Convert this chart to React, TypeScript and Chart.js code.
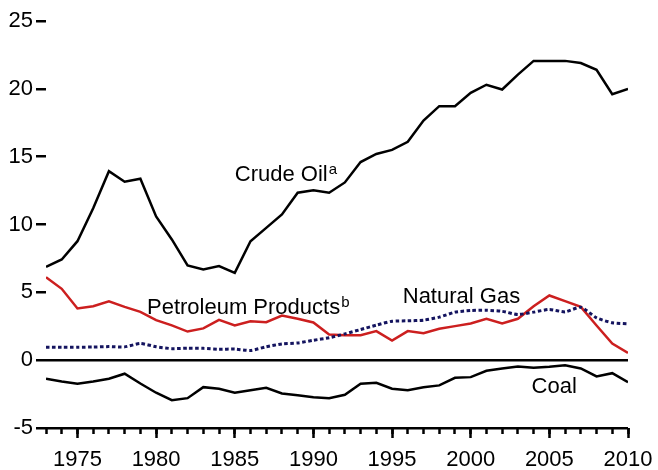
import React, { useEffect, useRef } from "react";
import { Chart, registerables } from "chart.js";

Chart.register(...registerables);

const FONT = '"Liberation Sans", Arial, Helvetica, sans-serif';

const years = [
  1973, 1974, 1975, 1976, 1977, 1978, 1979, 1980, 1981, 1982, 1983, 1984, 1985,
  1986, 1987, 1988, 1989, 1990, 1991, 1992, 1993, 1994, 1995, 1996, 1997, 1998,
  1999, 2000, 2001, 2002, 2003, 2004, 2005, 2006, 2007, 2008, 2009, 2010,
];

const crudeOil = [
  6.88, 7.42, 8.77, 11.2, 13.93, 13.15, 13.37, 10.6, 8.9, 6.98, 6.68, 6.93, 6.44,
  8.77, 9.75, 10.74, 12.34, 12.53, 12.34, 13.1, 14.6, 15.2, 15.5, 16.1, 17.66,
  18.72, 18.72, 19.7, 20.3, 19.95, 21.05, 22.06, 22.06, 22.06, 21.9, 21.4, 19.6,
  20.0,
];

const petroleumProducts = [
  6.12, 5.26, 3.81, 3.98, 4.33, 3.93, 3.56, 2.95, 2.56, 2.11, 2.34, 2.97, 2.56,
  2.87, 2.8, 3.29, 3.05, 2.78, 1.89, 1.84, 1.84, 2.14, 1.45, 2.14, 1.99, 2.31,
  2.51, 2.7, 3.05, 2.7, 3.05, 3.98, 4.77, 4.35, 3.93, 2.56, 1.23, 0.54,
];

const naturalGas = [
  0.96, 0.95, 0.95, 0.97, 1.0, 0.98, 1.23, 0.99, 0.85, 0.88, 0.87, 0.8, 0.82,
  0.71, 0.99, 1.2, 1.27, 1.47, 1.65, 1.94, 2.26, 2.58, 2.87, 2.9, 2.95, 3.17,
  3.54, 3.66, 3.68, 3.6, 3.37, 3.54, 3.74, 3.56, 3.9, 3.12, 2.76, 2.68,
];

const coal = [
  -1.37, -1.57, -1.74, -1.57, -1.37, -1.0, -1.72, -2.4, -2.95, -2.8, -1.99,
  -2.11, -2.4, -2.21, -2.04, -2.45, -2.58, -2.73, -2.8, -2.55, -1.74, -1.67,
  -2.11, -2.21, -2.0, -1.86, -1.3, -1.25, -0.78, -0.61, -0.46, -0.56, -0.49,
  -0.37, -0.61, -1.2, -0.96, -1.62,
];

const yTickValues = [-5, 0, 5, 10, 15, 20, 25];
const xLabelYears = [1975, 1980, 1985, 1990, 1995, 2000, 2005, 2010];

const seriesLabelTexts = ["Crude Oil", "Petroleum Products", "Natural Gas", "Coal"];
const seriesLabelSups = ["a", "b", "", ""];
const seriesLabelYears = [1985.0, 1979.42, 1995.68, 2003.87];
const seriesLabelValues = [13.17, 3.37, 4.23, -2.45];

const toPoints = (vals: number[]) => vals.map((v, i) => ({ x: years[i], y: v }));

const labelPlugin = {
  id: "seriesLabels",
  afterDatasetsDraw(chart: any) {
    const { ctx, scales } = chart;
    const xs = scales.x;
    const ys = scales.y;
    ctx.save();
    ctx.fillStyle = "#000";
    ctx.textAlign = "left";
    ctx.textBaseline = "alphabetic";
    seriesLabelTexts.forEach((t, i) => {
      const px = xs.getPixelForValue(seriesLabelYears[i]);
      const py = ys.getPixelForValue(seriesLabelValues[i]);
      ctx.font = `22px ${FONT}`;
      ctx.fillText(t, px, py);
      const sup = seriesLabelSups[i];
      if (sup) {
        const w = ctx.measureText(t).width;
        ctx.font = `15px ${FONT}`;
        ctx.fillText(sup, px + w + 1, py - 7);
      }
    });
    ctx.restore();
  },
};

const zeroSidePadding = (s: any) => {
  s.paddingLeft = 0;
  s.paddingRight = 0;
};

export default function App() {
  const ref = useRef<HTMLCanvasElement>(null);

  useEffect(() => {
    if (!ref.current) return;
    Chart.defaults.font.family = FONT;
    const chart = new Chart(ref.current, {
      type: "line",
      data: {
        datasets: [
          {
            label: "Crude Oil",
            data: toPoints(crudeOil),
            borderColor: "#000",
            borderWidth: 2.5,
            pointRadius: 0,
            tension: 0,
            xAxisID: "x",
            yAxisID: "y",
          },
          {
            label: "Coal",
            data: toPoints(coal),
            borderColor: "#000",
            borderWidth: 2.5,
            pointRadius: 0,
            tension: 0,
            xAxisID: "x",
            yAxisID: "y",
          },
          {
            label: "Natural Gas",
            data: toPoints(naturalGas),
            borderColor: "#14145f",
            borderWidth: 3,
            borderDash: [3.5, 2.5],
            pointRadius: 0,
            tension: 0.2,
            xAxisID: "x",
            yAxisID: "y",
          },
          {
            label: "Petroleum Products",
            data: toPoints(petroleumProducts),
            borderColor: "#cc1f1f",
            borderWidth: 2.5,
            pointRadius: 0,
            tension: 0,
            xAxisID: "x",
            yAxisID: "y",
          },
        ],
      },
      options: {
        animation: false,
        responsive: false,
        events: [],
        layout: { padding: { top: 21, right: 30, left: 0, bottom: 0 } },
        plugins: {
          legend: { display: false },
          tooltip: { enabled: false },
          title: { display: false },
        },
        scales: {
          x: {
            type: "linear",
            position: "bottom",
            weight: 0,
            min: 1973,
            max: 2010,
            afterBuildTicks: (s: any) => {
              s.ticks = years.map((v) => ({ value: v }));
            },
            afterFit: (s: any) => {
              s.height = 0;
              zeroSidePadding(s);
            },
            ticks: { display: false },
            grid: {
              drawOnChartArea: false,
              drawTicks: true,
              tickLength: 6,
              tickColor: "#000",
              tickWidth: 2.5,
            },
            border: { display: false },
          },
          xMajor: {
            type: "linear",
            position: "bottom",
            weight: 1,
            min: 1973,
            max: 2010,
            afterBuildTicks: (s: any) => {
              s.ticks = xLabelYears.map((v) => ({ value: v }));
            },
            afterFit: (s: any) => {
              s.height = 42;
              zeroSidePadding(s);
            },
            ticks: {
              autoSkip: false,
              maxRotation: 0,
              minRotation: 0,
              padding: 9,
              color: "#000",
              font: { size: 22, family: FONT },
              callback: (v: any) => String(v),
            },
            grid: {
              drawOnChartArea: false,
              drawTicks: true,
              tickLength: 10,
              tickColor: "#000",
              tickWidth: 2.5,
            },
            border: { display: false },
          },
          y: {
            type: "linear",
            position: "left",
            min: -5,
            max: 25,
            afterBuildTicks: (s: any) => {
              s.ticks = yTickValues.map((v) => ({ value: v }));
            },
            afterFit: (s: any) => {
              s.width = 46;
            },
            ticks: {
              padding: 3,
              color: "#000",
              font: { size: 22, family: FONT },
              callback: (v: any) => String(v),
            },
            grid: {
              drawOnChartArea: true,
              color: (c: any) =>
                c.tick && (c.tick.value === 0 || c.tick.value === -5) ? "#000" : "rgba(0,0,0,0)",
              lineWidth: 2.5,
              drawTicks: true,
              tickLength: 10,
              tickColor: "#000",
              tickWidth: 2.5,
            },
            border: { display: false },
          },
        },
      },
      plugins: [labelPlugin],
    } as any);
    return () => chart.destroy();
  }, []);

  return (
    <div style={{ position: "fixed", left: 0, top: 0, width: 658, height: 470, background: "#fff" }}>
      <canvas ref={ref} width={658} height={470} style={{ display: "block" }} />
    </div>
  );
}
